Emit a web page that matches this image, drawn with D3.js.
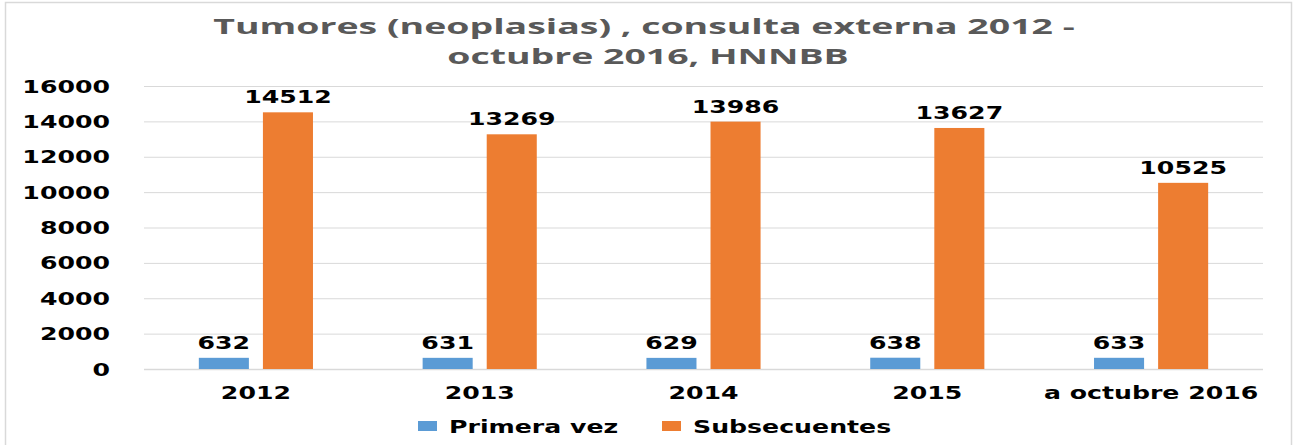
<!DOCTYPE html>
<html>
<head>
<meta charset="utf-8">
<script src="https://cdn.jsdelivr.net/npm/d3@7"></script>
<style>
  html, body { margin: 0; padding: 0; background: #fff; }
  svg { display: block; }
</style>
</head>
<body>
<script>
// ---- data ----
const categories = ["2012", "2013", "2014", "2015", "a octubre 2016"];
const seriesNames = ["Primera vez", "Subsecuentes"];
const primeraVez = [632, 631, 629, 638, 633];
const subsecuentes = [14512, 13269, 13986, 13627, 10525];
const yTicks = [0, 2000, 4000, 6000, 8000, 10000, 12000, 14000, 16000];
const titleLines = ["Tumores (neoplasias) , consulta externa 2012 -", "octubre 2016, HNNBB"];
const colors = ["#5b9bd5", "#ed7d31"];

// ---- layout ----
const W = 1296, H = 445;
const plot = { left: 144, right: 1263, top: 86, bottom: 369 };
const K = 1.5;            // horizontal stretch of text
const FONT = "'DejaVu Sans', Verdana, sans-serif";
const FS = 16.8;

const svg = d3.select("body").append("svg").attr("width", W).attr("height", H);

// outer border
svg.append("rect").attr("x", 5.5).attr("y", 2.5).attr("width", 1286).attr("height", 460)
  .attr("fill", "#fff").attr("stroke", "#d9d9d9").attr("stroke-width", 1.5);

const x0 = d3.scaleBand().domain(categories).range([plot.left, plot.right])
  .paddingInner(0.49).paddingOuter(0.245);
const x1 = d3.scaleBand().domain(seriesNames).range([0, x0.bandwidth()]).paddingInner(0.219);
const y = d3.scaleLinear().domain([0, 16000]).range([plot.bottom, plot.top]);

function stext(g, x, yy, txt, anchor, opts = {}) {
  return g.append("text")
    .attr("transform", `translate(${x},${yy}) scale(${opts.k || K},1)`)
    .attr("text-anchor", anchor)
    .attr("font-family", opts.font || FONT)
    .attr("font-weight", "bold")
    .attr("font-size", opts.size || FS)
    .attr("fill", opts.fill || "#000")
    .text(txt);
}

// gridlines + y axis
const yAxis = d3.axisLeft(y).tickValues(yTicks).tickSize(-(plot.right - plot.left)).tickFormat(d3.format("d"));
const gy = svg.append("g").attr("transform", `translate(${plot.left},0)`).call(yAxis);
gy.select(".domain").remove();
gy.selectAll(".tick line").attr("stroke", "#d9d9d9").attr("stroke-width", d => d === 0 ? 1.5 : 1);
gy.selectAll(".tick text")
  .attr("x", null).attr("dy", "0.36em")
  .attr("transform", `translate(-34,0) scale(${K},1)`)
  .attr("text-anchor", "end")
  .attr("font-family", FONT).attr("font-weight", "bold").attr("font-size", FS).attr("fill", "#000");

// x axis labels
const xAxis = d3.axisBottom(x0).tickSize(0);
const gx = svg.append("g").attr("transform", `translate(0,${plot.bottom})`).call(xAxis);
gx.select(".domain").remove();
gx.selectAll(".tick text")
  .attr("y", null).attr("dy", null)
  .attr("transform", `translate(0,30) scale(${K},1)`)
  .attr("font-family", FONT).attr("font-weight", "bold").attr("font-size", FS).attr("fill", "#000");

// bars
const data = categories.map((c, i) => ({ cat: c, vals: [primeraVez[i], subsecuentes[i]] }));
const groups = svg.append("g").selectAll("g").data(data).join("g")
  .attr("transform", d => `translate(${x0(d.cat)},0)`);
groups.selectAll("rect").data(d => d.vals.map((v, j) => ({ v, s: seriesNames[j], j })))
  .join("rect")
  .attr("x", d => x1(d.s))
  .attr("width", x1.bandwidth())
  .attr("y", d => y(d.v))
  .attr("height", d => y(0) - y(d.v))
  .attr("fill", d => colors[d.j]);
groups.each(function (d) {
  const g = d3.select(this);
  d.vals.forEach((v, j) => {
    stext(g, x1(seriesNames[j]) + x1.bandwidth() / 2, y(v) - 9, String(v), "middle");
  });
});

// title
const tg = svg.append("g");
const t1 = tg.append("text").attr("font-family", "'Open Sans', sans-serif").attr("font-weight", "bold")
  .attr("font-size", 22).attr("fill", "#595959").attr("text-anchor", "middle").text(titleLines[0]);
const len1 = t1.node().getComputedTextLength();
const tk = 862 / len1;
t1.attr("transform", `translate(644,34) scale(${tk},1)`);
tg.append("text").attr("font-family", "'Open Sans', sans-serif").attr("font-weight", "bold")
  .attr("font-size", 22).attr("fill", "#595959").attr("text-anchor", "middle")
  .attr("transform", `translate(648,64) scale(${tk},1)`).text(titleLines[1]);

// legend
const legendX = [418, 662];
const lg = svg.append("g");
seriesNames.forEach((s, j) => {
  lg.append("rect").attr("x", legendX[j]).attr("y", 421).attr("width", 19).attr("height", 10).attr("fill", colors[j]);
  stext(lg, legendX[j] + 31, 433, s, "start");
});
</script>
</body>
</html>
